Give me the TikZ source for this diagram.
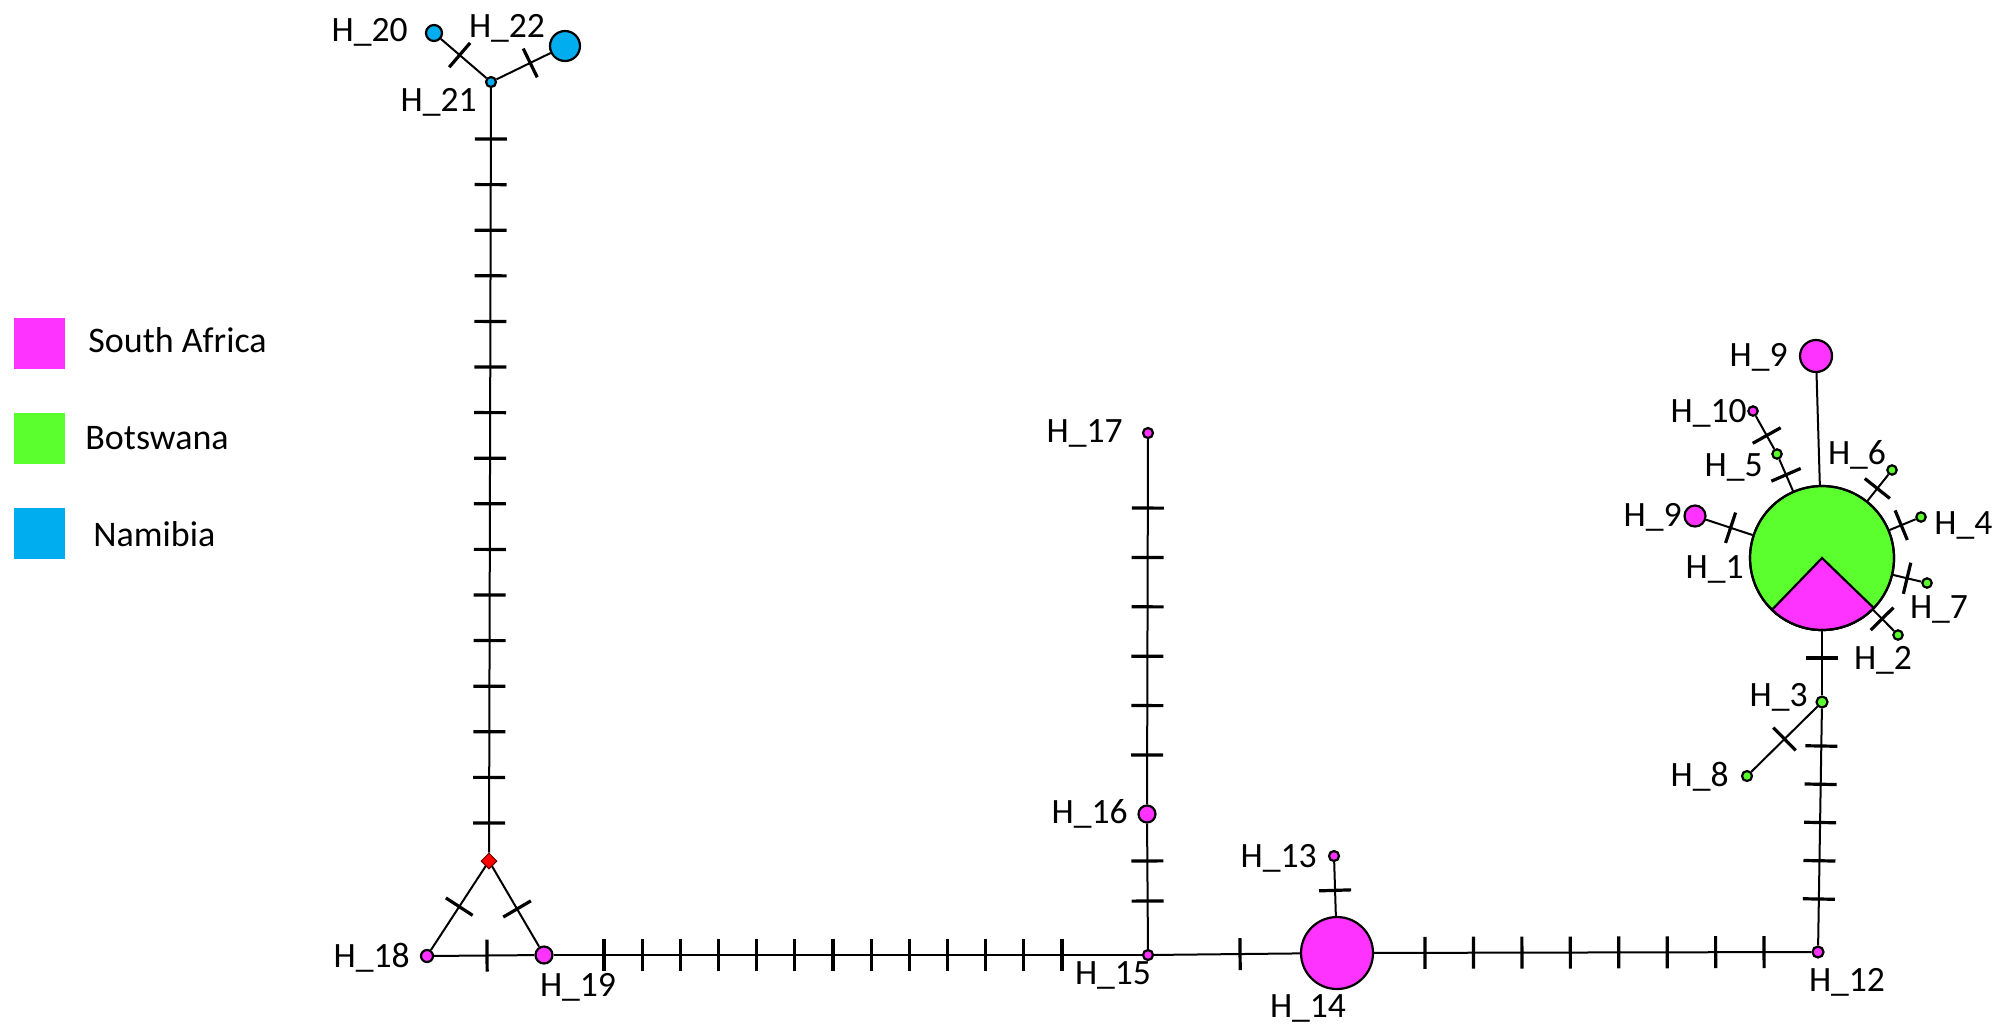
\documentclass[tikz,border=0pt]{standalone}
\usepackage{fontspec}
\setmainfont{Carlito}
\usetikzlibrary{calc,shapes.geometric}
\definecolor{sa}{HTML}{FF33FF}
\definecolor{bw}{HTML}{5CFF2E}
\definecolor{nb}{HTML}{00AEEF}
\definecolor{rd}{HTML}{FF0000}
\newcommand\mtick[3]{%
  \path ($(#1.center)!{#3}!(#2.center)$) coordinate (tkp);
  \draw[tickline] ($(tkp)!8pt!90:(#2.center)$) -- ($(tkp)!8pt!-90:(#2.center)$);}
\begin{document}
\begin{tikzpicture}[x=0.5pt,y=-0.5pt,
  hap/.style={circle,draw=black,line width=1.1pt,inner sep=0pt,minimum size=#1},
  diam/.style={diamond,fill=rd,draw=black!60!red,line width=0.5pt,inner sep=0pt,minimum size=8pt},
  edge/.style={draw=black,line width=1pt},
  tickline/.style={draw=black,line width=1.6pt},
  lab/.style={inner sep=0pt,yshift=-2.5pt,font=\fontsize{17.8}{20}\selectfont},
  legtxt/.style={inner sep=0pt,anchor=mid west,yshift=-3.5pt,font=\fontsize{18}{21}\selectfont},
  legbox/.style={inner sep=0pt,minimum size=25.5pt}]
\useasboundingbox (0,0) rectangle (1995,1024);
\fill[white] (0,0) rectangle (1995,1024);

% legend
\node[legbox,fill=sa] (lsa) at (39.5,343) {};
\node[legbox,fill=bw] (lbw) at (39.5,438) {};
\node[legbox,fill=nb] (lnb) at (39.5,533) {};
\node[legtxt] (tsa) at (88,341) {South Africa};
\node[legtxt] (tbw) at (85,438) {Botswana};
\node[legtxt] (tnb) at (93,535) {Namibia};

% haplotype nodes
\node[hap=8pt,fill=nb] (h20) at (434,33) {};
\node[hap=15pt,fill=nb] (h22) at (565,46) {};
\node[hap=5pt,fill=nb] (h21) at (491,82) {};
\node[diam] (dv) at (489,861) {};
\node[hap=6pt,fill=sa] (h18) at (427,956) {};
\node[hap=8.5pt,fill=sa] (h19) at (544,955) {};
\node[hap=5pt,fill=sa] (h15) at (1148,955) {};
\node[hap=8.5pt,fill=sa] (h16) at (1147,814) {};
\node[hap=5pt,fill=sa] (h17) at (1148,433) {};
\node[hap=36pt,fill=sa] (h14) at (1337,953) {};
\node[hap=5pt,fill=sa] (h13) at (1334,856) {};
\node[hap=5.5pt,fill=sa] (h12) at (1818,952) {};
\node[hap=5.5pt,fill=bw] (h3) at (1822,702) {};
\node[hap=5pt,fill=bw] (h8) at (1747,776) {};
\node[hap=72pt,fill=bw] (h1) at (1822,558) {};
\node[hap=16pt,fill=sa] (h9a) at (1816,356) {};
\node[hap=10.5pt,fill=sa] (h9b) at (1695,516) {};
\node[hap=4.7pt,fill=sa] (h10) at (1753,411) {};
\node[hap=4.7pt,fill=bw] (h5) at (1777,454) {};
\node[hap=4.7pt,fill=bw] (h6) at (1892,470) {};
\node[hap=4.7pt,fill=bw] (h4) at (1921,517) {};
\node[hap=4.7pt,fill=bw] (h7) at (1927,583) {};
\node[hap=4.7pt,fill=bw] (h2) at (1898,635) {};

% pie wedge of H_1
\filldraw[fill=sa,draw=black,line width=1.1pt] (h1.center) -- ++(226:36pt) arc[start angle=226,end angle=316,radius=36pt] -- cycle;
\draw[black,line width=1.1pt] (h1.center) circle[radius=36pt];

% edges
\draw[edge] (h20) -- (h21);
\draw[edge] (h21) -- (h22);
\draw[edge] (h21) -- (dv);
\draw[edge] (dv) -- (h18);
\draw[edge] (dv) -- (h19);
\draw[edge] (h18) -- (h19);
\draw[edge] (h19) -- (h15);
\draw[edge] (h15) -- (h16);
\draw[edge] (h16) -- (h17);
\draw[edge] (h15) -- (h14);
\draw[edge] (h14) -- (h13);
\draw[edge] (h14) -- (h12);
\draw[edge] (h12) -- (h3);
\draw[edge] (h3) -- (h8);
\draw[edge] (h3) -- (h1);
\draw[edge] (h1) -- (h9a);
\draw[edge] (h1) -- (h9b);
\draw[edge] (h1) -- (h5);
\draw[edge] (h5) -- (h10);
\draw[edge] (h1) -- (h6);
\draw[edge] (h1) -- (h4);
\draw[edge] (h1) -- (h7);
\draw[edge] (h1) -- (h2);

% mutation ticks
\mtick{h20}{h21}{0.45}
\mtick{h21}{h22}{0.53}
\foreach \i in {0,...,15} {\mtick{h21}{dv}{0.0732+\i*0.05853}}
\mtick{dv}{h18}{0.48}
\mtick{dv}{h19}{0.51}
\mtick{h18}{h19}{0.513}
\foreach \i in {0,...,12} {\mtick{h19}{h15}{0.0993+\i*0.06319}}
\mtick{h15}{h16}{0.383}
\mtick{h15}{h16}{0.667}
\foreach \i in {0,...,5} {\mtick{h16}{h17}{0.155+\i*0.1296}}
\mtick{h15}{h14}{0.487}
\mtick{h14}{h13}{0.646}
\foreach \i in {0,...,7} {\mtick{h14}{h12}{0.183+\i*0.1007}}
\foreach \i in {0,...,4} {\mtick{h12}{h3}{0.212+\i*0.153}}
\mtick{h3}{h8}{0.5}
\mtick{h3}{h1}{0.306}
\mtick{h1}{h9b}{0.72}
\mtick{h1}{h5}{0.8}
\mtick{h5}{h10}{0.43}
\mtick{h1}{h6}{0.79}
\mtick{h1}{h4}{0.8}
\mtick{h1}{h7}{0.81}
\mtick{h1}{h2}{0.79}

% labels
\node[lab,anchor=mid east] (l20) at (408,32) {H\_20};
\node[lab,anchor=mid] (l22) at (507,28) {H\_22};
\node[lab,anchor=mid east] (l21) at (477,102) {H\_21};
\node[lab,anchor=mid east] (l18) at (410,958) {H\_18};
\node[lab,anchor=mid] (l19) at (578,987) {H\_19};
\node[lab,anchor=mid east] (l17) at (1123,433) {H\_17};
\node[lab,anchor=mid east] (l16) at (1128,814) {H\_16};
\node[lab,anchor=mid] (l15) at (1113,975) {H\_15};
\node[lab,anchor=mid] (l14) at (1308,1008) {H\_14};
\node[lab,anchor=mid east] (l13) at (1317,858) {H\_13};
\node[lab,anchor=mid] (l12) at (1847,982) {H\_12};
\node[lab,anchor=mid east] (l3) at (1808,697) {H\_3};
\node[lab,anchor=mid east] (l8) at (1729,777) {H\_8};
\node[lab,anchor=mid east] (l9a) at (1788,357) {H\_9};
\node[lab,anchor=mid east] (l10) at (1747,413) {H\_10};
\node[lab,anchor=mid east] (l5) at (1763,467) {H\_5};
\node[lab,anchor=mid] (l6) at (1857,455) {H\_6};
\node[lab,anchor=mid east] (l9b) at (1682,517) {H\_9};
\node[lab,anchor=mid west] (l4) at (1934,525) {H\_4};
\node[lab,anchor=mid east] (l1) at (1744,569) {H\_1};
\node[lab,anchor=mid] (l7) at (1939,609) {H\_7};
\node[lab,anchor=mid] (l2) at (1883,660) {H\_2};
\end{tikzpicture}
\end{document}
